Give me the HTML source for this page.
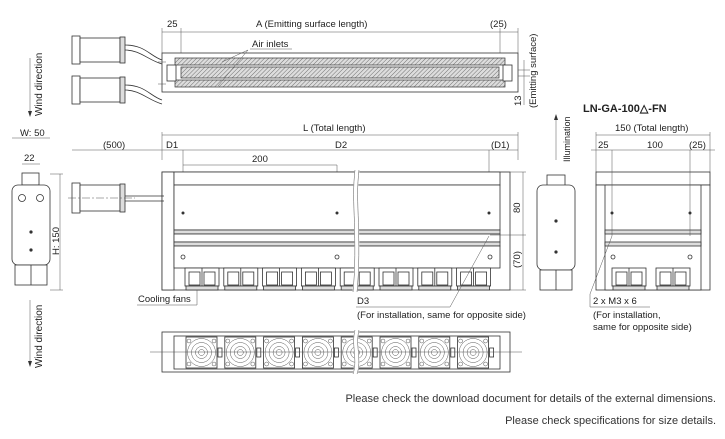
<!DOCTYPE html>
<html><head><meta charset="utf-8"><style>
html,body{margin:0;padding:0;background:#fff;width:725px;height:439px;overflow:hidden}
svg{display:block;font-family:"Liberation Sans",sans-serif}
text{font-size:9.5px;fill:#222}
.l{stroke:#333;stroke-width:0.8;fill:none}
.t{stroke:#555;stroke-width:0.5;fill:none}
.b{fill:#fff;stroke:#333;stroke-width:0.8}
.g{fill:#ddd;stroke:#333;stroke-width:0.8}
.h{fill:url(#hat);stroke:#333;stroke-width:0.7}
</style></head><body>
<svg id="s" width="725" height="439" viewBox="0 0 725 439" xmlns="http://www.w3.org/2000/svg">
<defs>
<pattern id="hat" width="3" height="3" patternUnits="userSpaceOnUse" patternTransform="rotate(45)"><rect width="3" height="3" fill="#ddd"/><line x1="0" y1="0" x2="0" y2="3" stroke="#555" stroke-width="0.8"/></pattern>
</defs>
<!-- TOP VIEW -->
<line class="t" x1="162" y1="32" x2="518" y2="32"/>
<line class="t" x1="162" y1="28" x2="162" y2="53"/><line class="t" x1="181" y1="28" x2="181" y2="75"/>
<line class="t" x1="500" y1="28" x2="500" y2="75"/><line class="t" x1="518" y1="28" x2="518" y2="53"/>
<text x="167" y="27">25</text><text x="256" y="27">A (Emitting surface length)</text><text x="490" y="27">(25)</text>
<rect class="b" x="162" y="53" width="356" height="39"/>
<rect class="h" x="175" y="58" width="330" height="7"/>
<rect class="h" x="181" y="67" width="318" height="11"/>
<rect class="h" x="175" y="80" width="330" height="7"/>
<rect class="b" x="167" y="65" width="9" height="16"/><rect class="b" x="503" y="65" width="9" height="16"/>
<text x="252" y="47">Air inlets</text><line class="t" x1="250" y1="49" x2="292" y2="49"/>
<line class="t" x1="248" y1="50" x2="222" y2="62"/><line class="t" x1="248" y1="50" x2="218" y2="86"/>
<line class="t" x1="518" y1="70" x2="530" y2="70"/><line class="t" x1="518" y1="76" x2="530" y2="76"/>
<line class="t" x1="524" y1="60" x2="524" y2="105"/>
<text transform="translate(521,106) rotate(-90)">13</text>
<text transform="translate(536,108) rotate(-90)">(Emitting surface)</text>
<!-- connectors top -->
<g id="con">
<rect class="b" x="72" y="36" width="8" height="28"/><rect class="b" x="80" y="38" width="40" height="24"/><rect class="g" x="120" y="37" width="5" height="26"/>
<path class="l" d="M125 45 C145 45,150 56,162 60 M125 50 C140 50,148 60,162 64"/>
</g>
<use href="#con" y="40"/>
<line class="t" x1="158" y1="62" x2="166" y2="62"/><line class="t" x1="158" y1="84" x2="166" y2="84"/>
<!-- Wind direction left -->
<line class="t" x1="30" y1="58" x2="30" y2="115"/><path d="M28 111 L30 117 L32 111Z" fill="#333"/>
<text transform="translate(42,116) rotate(-90)" style="font-size:10px">Wind direction</text>
<!-- W side view -->
<text x="20" y="136">W: 50</text><line class="t" x1="12" y1="138" x2="50" y2="138"/>
<text x="24" y="161">22</text><line class="t" x1="22" y1="164" x2="40" y2="164"/>
<rect class="b" x="22" y="173" width="17" height="12"/>
<rect class="b" x="12" y="185" width="38" height="80" rx="6"/>
<circle class="l" cx="22" cy="198" r="3.5"/><circle class="l" cx="40" cy="198" r="3.5"/>
<circle cx="31" cy="250" r="1.6" fill="#333"/><circle cx="31" cy="232" r="1.6" fill="#333"/>
<rect class="b" x="15" y="265" width="32" height="20"/><line class="l" x1="31" y1="265" x2="31" y2="285"/>
<line class="t" x1="50" y1="174" x2="63" y2="174"/><line class="t" x1="50" y1="290" x2="63" y2="290"/><line class="t" x1="60" y1="174" x2="60" y2="290"/>
<text transform="translate(59,255) rotate(-90)">H: 150</text>
<line class="t" x1="30" y1="300" x2="30" y2="365"/><path d="M28 361 L30 367 L32 361Z" fill="#333"/>
<text transform="translate(42,368) rotate(-90)" style="font-size:10px">Wind direction</text>
<!-- FRONT VIEW dims -->
<text x="303" y="131">L (Total length)</text><line class="t" x1="162" y1="135" x2="518" y2="135"/>
<line class="t" x1="72" y1="150" x2="518" y2="150"/>
<text x="103" y="148">(500)</text><text x="166" y="148">D1</text><text x="335" y="148">D2</text><text x="491" y="148">(D1)</text>
<line class="t" x1="183" y1="165" x2="337" y2="165"/><text x="252" y="162">200</text>
<line class="t" x1="183" y1="150" x2="183" y2="245"/><line class="t" x1="337" y1="165" x2="337" y2="245"/><line class="t" x1="489" y1="150" x2="489" y2="240"/>
<line class="t" x1="162" y1="132" x2="162" y2="160"/><line class="t" x1="518" y1="132" x2="518" y2="160"/>
<!-- front body -->
<rect class="b" x="162" y="172" width="348" height="118" fill="none"/>
<rect class="b" x="162" y="172" width="12" height="118"/>
<rect class="b" x="174" y="172" width="326" height="13"/>
<rect class="b" x="174" y="185" width="326" height="45"/>
<rect class="g" x="174" y="230" width="326" height="4"/><rect class="b" x="174" y="234" width="326" height="8"/><rect class="g" x="174" y="242" width="326" height="4"/>
<rect class="b" x="174" y="246" width="326" height="22"/>
<circle cx="183" cy="213" r="1.5" fill="#333"/><circle cx="337" cy="213" r="1.5" fill="#333"/><circle cx="489" cy="213" r="1.5" fill="#333"/>
<circle cx="183" cy="257" r="2" class="l"/><circle cx="337" cy="257" r="2" class="l"/><circle cx="490" cy="257" r="2" class="l"/>
<g id="fans1"></g>
<path d="M357 170 C353 200,360 240,355 292" stroke="#fff" stroke-width="5" fill="none"/>
<path class="t" d="M355 170 C351 200,358 240,353 292 M359 170 C355 200,362 240,357 292"/>
<!-- front connector -->
<rect class="b" x="72" y="183" width="8" height="30"/><rect class="b" x="80" y="185" width="40" height="26"/><rect class="g" x="120" y="184" width="5" height="28"/>
<line class="l" x1="125" y1="196" x2="164" y2="196"/><line class="l" x1="125" y1="201" x2="164" y2="201"/>
<line class="t" x1="68" y1="198" x2="135" y2="198" stroke-dasharray="8 2 2 2"/>
<!-- 80/(70) -->
<line class="t" x1="500" y1="172" x2="526" y2="172"/><line class="t" x1="490" y1="235" x2="526" y2="235"/><line class="t" x1="500" y1="290" x2="526" y2="290"/>
<line class="t" x1="523" y1="172" x2="523" y2="290"/>
<text transform="translate(520,213) rotate(-90)">80</text><text transform="translate(520,268) rotate(-90)">(70)</text>
<text x="138" y="302">Cooling fans</text><line class="t" x1="137" y1="305" x2="197" y2="305"/><line class="t" x1="197" y1="305" x2="197" y2="290"/>
<text x="357" y="304">D3</text><text x="357" y="318">(For installation, same for opposite side)</text>
<line class="t" x1="450" y1="307" x2="489" y2="236"/><line class="t" x1="356" y1="307" x2="450" y2="307"/>
<!-- bottom view -->
<rect class="b" x="162" y="332" width="348" height="40"/><rect class="b" x="174" y="336" width="326" height="33"/>
<g id="fans2"></g>
<line class="t" x1="150" y1="352" x2="522" y2="352"/>
<path d="M357 330 C353 345,360 360,355 374" stroke="#fff" stroke-width="5" fill="none"/>
<path class="t" d="M355 330 C351 345,358 360,353 374 M359 330 C355 345,362 360,357 374"/>
<!-- middle side view -->
<line class="t" x1="556" y1="115" x2="556" y2="160"/><path d="M554 120 L556 114 L558 120Z" fill="#333"/>
<text transform="translate(570,162) rotate(-90)" style="font-size:9px">Illumination</text>
<rect class="b" x="547" y="175" width="18" height="12"/>
<rect class="b" x="537" y="185" width="38" height="85" rx="6"/>
<circle cx="556" cy="221" r="1.6" fill="#333"/><circle cx="556" cy="252" r="1.6" fill="#333"/>
<rect class="b" x="540" y="270" width="32" height="20"/><line class="l" x1="556" y1="270" x2="556" y2="290"/>
<!-- right view -->
<text x="583" y="112" style="font-size:11px;font-weight:bold">LN-GA-100△-FN</text>
<text x="615" y="131">150 (Total length)</text><line class="t" x1="596" y1="135" x2="710" y2="135"/>
<line class="t" x1="591" y1="150" x2="715" y2="150"/>
<text x="598" y="148">25</text><text x="647" y="148">100</text><text x="689" y="148">(25)</text>
<line class="t" x1="596" y1="132" x2="596" y2="172"/><line class="t" x1="710" y1="132" x2="710" y2="172"/>
<rect class="b" x="596" y="172" width="114" height="13"/>
<rect class="b" x="596" y="185" width="114" height="105" fill="none"/>
<rect class="b" x="605" y="185" width="96" height="105"/>
<rect class="g" x="605" y="230" width="96" height="4"/><rect class="g" x="605" y="242" width="96" height="4"/>
<line class="t" x1="612" y1="150" x2="612" y2="236"/><line class="t" x1="690" y1="150" x2="690" y2="236"/>
<circle cx="612" cy="213" r="1.5" fill="#333"/><circle cx="690" cy="213" r="1.5" fill="#333"/>
<circle class="l" cx="613" cy="257" r="2"/><circle class="l" cx="690" cy="257" r="2"/>
<g id="fans3"></g>
<line class="t" x1="590" y1="294" x2="612" y2="236"/><line class="t" x1="590" y1="294" x2="590" y2="307"/><line class="t" x1="590" y1="307" x2="650" y2="307"/>
<text x="593" y="304">2 x M3 x 6</text>
<text x="593" y="318">(For installation,</text><text x="593" y="330">same for opposite side)</text>
<!-- footer -->
<text x="716" y="402" text-anchor="end" style="font-size:11px;fill:#333">Please check the download document for details of the external dimensions.</text>
<text x="716" y="424" text-anchor="end" style="font-size:11px;fill:#333">Please check specifications for size details.</text>
</svg>
<script>
var NS="http://www.w3.org/2000/svg";
function el(p,t,a){var e=document.createElementNS(NS,t);for(var k in a)e.setAttribute(k,a[k]);p.appendChild(e);return e;}
function fanFront(g,x){el(g,"rect",{class:"b",x:x,y:268,width:34,height:18});el(g,"line",{class:"l",x1:x+17,y1:268,x2:x+17,y2:286});
el(g,"rect",{class:"b",x:x+4,y:272,width:11,height:13});el(g,"rect",{class:"b",x:x+19,y:272,width:11,height:13});
el(g,"rect",{class:"g",x:x+1,y:286,width:32,height:4});}
var f1=document.getElementById("fans1"),f2=document.getElementById("fans2"),f3=document.getElementById("fans3");
for(var i=0;i<8;i++){var x=185+i*38.8;fanFront(f1,x);
var g=f2;el(g,"rect",{class:"b",x:x+1,y:337,width:31,height:31});
[14,10,6,3].forEach(function(r){el(g,"circle",{class:"t",cx:x+16.5,cy:352.5,r:r});});
[[4,341],[29,341],[4,364],[29,364]].forEach(function(p){el(g,"circle",{class:"t",cx:x+p[0],cy:p[1],r:2});});
el(g,"rect",{class:"b",x:x+33,y:348,width:4,height:9});}
fanFront(f3,612);fanFront(f3,656);
</script>
</body></html>
